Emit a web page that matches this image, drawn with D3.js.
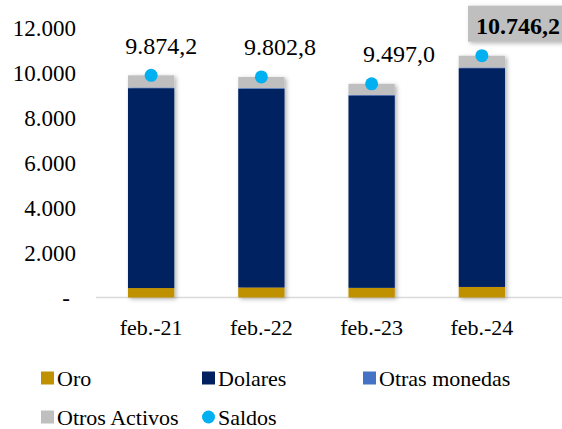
<!DOCTYPE html>
<html>
<head>
<meta charset="utf-8">
<script src="https://cdn.jsdelivr.net/npm/d3@7"></script>
<style>
  body { margin: 0; background: #fff; }
</style>
</head>
<body>
<div id="chart"></div>
<script>
// categories and series (millones)
const categories = ['feb.-21', 'feb.-22', 'feb.-23', 'feb.-24'];
const oro = [420, 445, 430, 470];
const dolares = [8883, 8832, 8549, 9722];
const otrasMonedas = [30, 30, 30, 30];
const otrosActivos = [541, 496, 488, 524];
const saldos = [9874.2, 9802.8, 9497.0, 10746.2];
const yTicks = [0, 2000, 4000, 6000, 8000, 10000, 12000];

const seriesNames = ['Oro', 'Dolares', 'Otras monedas', 'Otros Activos'];
const seriesColors = ['#bf9000', '#002060', '#4472c4', '#bfbfbf'];
const saldoColor = '#00b0f0';

const FONT = "'Liberation Serif', Tinos";
const W = 562, H = 429;
const svg = d3.select('#chart').append('svg').attr('width', W).attr('height', H);

const defs = svg.append('defs');
const f = defs.append('filter').attr('id', 'shadow')
  .attr('x', '-20%').attr('y', '-20%').attr('width', '140%').attr('height', '140%');
f.append('feDropShadow').attr('dx', 2).attr('dy', 1.5).attr('stdDeviation', 2)
  .attr('flood-color', '#000').attr('flood-opacity', 0.3);

const x = d3.scaleBand().domain(categories).range([96, 537]).paddingInner(0.58).paddingOuter(0.29);
const y = d3.scaleLinear().domain([0, 12000]).range([297.5, 27.5]);

// y axis labels
const fmt = d3.formatLocale({ decimal: ',', thousands: '.', grouping: [3], currency: ['', ''] });
const fmtInt = fmt.format(',.0f');
const fmtDec = fmt.format(',.1f');

svg.append('g').selectAll('text').data(yTicks).join('text')
  .attr('x', d => d === 0 ? 70 : 76)
  .attr('y', d => y(d))
  .attr('dy', '0.35em')
  .attr('text-anchor', 'end')
  .attr('font-family', FONT)
  .attr('font-size', '23px')
  .text(d => d === 0 ? '-' : fmtInt(d));

// baseline
svg.append('line')
  .attr('x1', 96).attr('x2', W)
  .attr('y1', y(0)).attr('y2', y(0))
  .attr('stroke', '#d9d9d9').attr('stroke-width', 1.5);

// stacked bars
const rows = categories.map((c, i) => ({
  cat: c, Oro: oro[i], Dolares: dolares[i], 'Otras monedas': otrasMonedas[i], 'Otros Activos': otrosActivos[i]
}));
const stack = d3.stack().keys(seriesNames)(rows);

const barG = svg.append('g').attr('filter', 'url(#shadow)');
stack.forEach((layer, k) => {
  barG.append('g').attr('fill', seriesColors[k])
    .selectAll('rect').data(layer).join('rect')
    .attr('x', d => x(d.data.cat))
    .attr('width', x.bandwidth())
    .attr('y', d => y(d[1]))
    .attr('height', d => y(d[0]) - y(d[1]));
});

// saldos points
svg.append('g').selectAll('circle').data(saldos).join('circle')
  .attr('cx', (d, i) => x(categories[i]) + x.bandwidth() / 2)
  .attr('cy', d => y(d))
  .attr('r', 6.5)
  .attr('fill', saldoColor);

// data labels (Excel placed them drifting to the right)
const lbl = svg.append('g');
saldos.forEach((d, i) => {
  const cx = x(categories[i]) + x.bandwidth() / 2 + 10 + i * 8.7;
  const cy = y(d) - 30;
  const last = i === saldos.length - 1;
  if (last) {
    lbl.append('rect')
      .attr('x', cx - 50).attr('y', cy - 20)
      .attr('width', 100).attr('height', 36)
      .attr('fill', '#bfbfbf')
      .attr('filter', 'url(#shadow)');
  }
  lbl.append('text')
    .attr('x', cx).attr('y', cy)
    .attr('dy', '0.35em')
    .attr('text-anchor', 'middle')
    .attr('font-family', FONT)
    .attr('font-size', '24px')
    .attr('font-weight', last ? 'bold' : null)
    .text(fmtDec(d));
});

// x labels
svg.append('g').selectAll('text').data(categories).join('text')
  .attr('x', d => x(d) + x.bandwidth() / 2)
  .attr('y', 327)
  .attr('dy', '0.35em')
  .attr('text-anchor', 'middle')
  .attr('font-family', FONT)
  .attr('font-size', '22px')
  .text(d => d);

// legend
const legendItems = [
  { name: 'Oro', color: seriesColors[0], shape: 'rect', col: 0, row: 0 },
  { name: 'Dolares', color: seriesColors[1], shape: 'rect', col: 1, row: 0 },
  { name: 'Otras monedas', color: seriesColors[2], shape: 'rect', col: 2, row: 0 },
  { name: 'Otros Activos', color: seriesColors[3], shape: 'rect', col: 0, row: 1 },
  { name: 'Saldos', color: saldoColor, shape: 'circle', col: 1, row: 1 }
];
const colX = [41, 202, 363];
const rowY = [378, 417];
const lg = svg.append('g');
legendItems.forEach(it => {
  const lx = colX[it.col], ly = rowY[it.row];
  if (it.shape === 'rect') {
    lg.append('rect').attr('x', lx).attr('y', ly - 6.5).attr('width', 13).attr('height', 13).attr('fill', it.color);
  } else {
    lg.append('circle').attr('cx', lx + 6.5).attr('cy', ly).attr('r', 6.5).attr('fill', it.color);
  }
  lg.append('text').attr('x', lx + 16).attr('y', ly).attr('dy', '0.35em')
    .attr('font-family', FONT)
    .attr('font-size', '22px').text(it.name);
});
</script>
</body>
</html>
